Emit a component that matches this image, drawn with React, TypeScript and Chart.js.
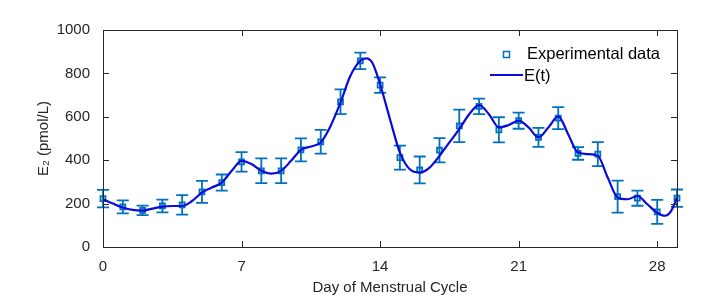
import React, { useEffect, useRef } from "react";
import { Chart, registerables } from "chart.js";

Chart.register(...registerables);

// ---- Data ----
const days = [0, 1, 2, 3, 4, 5, 6, 7, 8, 9, 10, 11, 12, 13, 14, 15, 16, 17, 18, 19, 20, 21, 22, 23, 24, 25, 26, 27, 28, 29];
const e2Mean = [223, 185, 169, 189, 194, 254, 297, 392, 351, 351, 448, 485, 669, 858, 746, 412, 355, 446, 558, 648, 540, 582, 505, 594, 431, 428, 232, 225, 162, 225];
const e2Err = [40, 30, 22, 29, 45, 51, 37, 45, 57, 57, 53, 55, 57, 38, 36, 55, 62, 56, 75, 36, 58, 37, 44, 51, 29, 55, 74, 35, 55, 40];

const fitT = [0, 0.5, 1, 1.5, 2, 2.5, 3, 3.5, 4, 4.5, 5, 5.5, 6, 6.5, 7, 7.5, 8, 8.5, 9, 9.5, 10, 10.5, 11, 11.5, 12, 12.5, 13, 13.3, 13.6, 14, 14.5, 15, 15.5, 16, 16.5, 17, 17.5, 18, 18.5, 19, 19.5, 20, 20.5, 21, 21.5, 22, 22.5, 23, 23.5, 24, 24.5, 25, 25.5, 26, 26.5, 27, 27.5, 28, 28.4, 28.7, 29];
const fitE = [220, 200, 182, 171, 168, 177, 186, 189, 189, 212, 251, 274, 297, 351, 397, 382, 351, 338, 351, 397, 448, 463, 482, 558, 666, 789, 858, 869, 850, 750, 589, 435, 358, 343, 366, 420, 482, 543, 612, 654, 612, 551, 562, 582, 551, 505, 551, 602, 520, 435, 428, 420, 320, 228, 220, 235, 197, 158, 144, 165, 228];

const xTicks = [0, 7, 14, 21, 28];
const yTicks = [0, 200, 400, 600, 800, 1000];

const xTitle = "Day of Menstrual Cycle";
const yTitle = "E\u2082 (pmol/L)";
const legendLabels = ["Experimental data", "E(t)"];

const DATA_COLOR = "#0072BD";
const LINE_COLOR = "#0A0ADC";
const AXIS_COLOR = "#262626";
const FONT = "'Liberation Sans', Arial, Helvetica, sans-serif";

export default function App() {
  const ref = useRef<HTMLCanvasElement | null>(null);

  useEffect(() => {
    document.body.style.margin = "0";
    const canvas = ref.current;
    if (!canvas) return;

    const framePlugin = {
      id: "frameAndExtras",
      beforeDatasetsDraw(chart: any) {
        const ctx = chart.ctx;
        const xs = chart.scales.x;
        const ys = chart.scales.y;
        ctx.save();
        ctx.strokeStyle = DATA_COLOR;
        ctx.lineWidth = 1.8;
        for (let i = 0; i < days.length; i++) {
          const px = xs.getPixelForValue(days[i]);
          const top = ys.getPixelForValue(e2Mean[i] + e2Err[i]);
          const bot = ys.getPixelForValue(e2Mean[i] - e2Err[i]);
          ctx.beginPath();
          ctx.moveTo(px, top);
          ctx.lineTo(px, bot);
          ctx.moveTo(px - 6, top);
          ctx.lineTo(px + 6, top);
          ctx.moveTo(px - 6, bot);
          ctx.lineTo(px + 6, bot);
          ctx.stroke();
        }
        ctx.restore();
      },
      afterDraw(chart: any) {
        const ctx = chart.ctx;
        const a = chart.chartArea;
        const xs = chart.scales.x;
        const ys = chart.scales.y;
        ctx.save();
        ctx.strokeStyle = AXIS_COLOR;
        ctx.lineWidth = 1;
        ctx.strokeRect(Math.round(a.left) + 0.5, Math.round(a.top) + 0.5, Math.round(a.right - a.left), Math.round(a.bottom - a.top));
        ctx.beginPath();
        const tl = 6;
        for (const v of xTicks) {
          const px = Math.round(xs.getPixelForValue(v)) + 0.5;
          ctx.moveTo(px, a.bottom);
          ctx.lineTo(px, a.bottom - tl);
          ctx.moveTo(px, a.top);
          ctx.lineTo(px, a.top + tl);
        }
        for (const v of yTicks) {
          const py = Math.round(ys.getPixelForValue(v)) + 0.5;
          ctx.moveTo(a.left, py);
          ctx.lineTo(a.left + tl, py);
          ctx.moveTo(a.right, py);
          ctx.lineTo(a.right - tl, py);
        }
        ctx.stroke();

        // legend
        ctx.font = `16.5px ${FONT}`;
        ctx.fillStyle = "#000000";
        ctx.textBaseline = "middle";
        ctx.textAlign = "left";
        ctx.strokeStyle = DATA_COLOR;
        ctx.lineWidth = 1.5;
        ctx.strokeRect(503.5, 51.5, 6, 6);
        ctx.fillText(legendLabels[0], 527, 54);
        ctx.strokeStyle = LINE_COLOR;
        ctx.lineWidth = 2;
        ctx.beginPath();
        ctx.moveTo(490, 75);
        ctx.lineTo(523, 75);
        ctx.stroke();
        ctx.fillText(legendLabels[1], 524, 76);
        ctx.restore();
      },
    };

    const chart = new Chart(canvas, {
      type: "scatter",
      data: {
        datasets: [
          {
            type: "line",
            label: legendLabels[1],
            data: fitT.map((t, i) => ({ x: t, y: fitE[i] })),
            borderColor: LINE_COLOR,
            borderWidth: 2.2,
            pointRadius: 0,
            fill: false,
            clip: false,
            cubicInterpolationMode: "monotone",
            order: 0,
          } as any,
          {
            type: "scatter",
            label: legendLabels[0],
            data: days.map((d, i) => ({ x: d, y: e2Mean[i] })),
            pointStyle: "rect",
            pointRadius: 3.5,
            pointBorderWidth: 1.8,
            pointBorderColor: DATA_COLOR,
            pointBackgroundColor: "rgba(255,255,255,0)",
            clip: false,
            order: 1,
          } as any,
        ],
      },
      options: {
        responsive: false,
        animation: false,
        layout: { padding: { left: 0, right: 47, top: 30, bottom: 0 } },
        plugins: { legend: { display: false }, tooltip: { enabled: false } },
        scales: {
          x: {
            type: "linear",
            min: 0,
            max: 29,
            grid: { display: false },
            border: { display: false },
            afterBuildTicks: (s: any) => {
              s.ticks = xTicks.map((v) => ({ value: v }));
            },
            afterFit: (s: any) => {
              s.height = 59;
            },
            ticks: {
              color: AXIS_COLOR,
              font: { family: FONT, size: 15 },
              padding: 3,
              maxRotation: 0,
              autoSkip: false,
              callback: (v: any) => String(v),
            },
            title: {
              display: true,
              text: xTitle,
              color: AXIS_COLOR,
              font: { family: FONT, size: 15 },
              padding: { top: 0, bottom: 9 },
            },
          },
          y: {
            type: "linear",
            min: 0,
            max: 1000,
            grid: { display: false },
            border: { display: false },
            afterBuildTicks: (s: any) => {
              s.ticks = yTicks.map((v) => ({ value: v }));
            },
            afterFit: (s: any) => {
              s.width = 103;
            },
            ticks: {
              color: AXIS_COLOR,
              font: { family: FONT, size: 15 },
              padding: 5,
              callback: (v: any) => String(v),
            },
            title: {
              display: true,
              text: yTitle,
              color: AXIS_COLOR,
              font: { family: FONT, size: 15 },
              padding: { top: 35, bottom: 0 },
            },
          },
        },
      },
      plugins: [framePlugin],
    } as any);

    return () => chart.destroy();
  }, []);

  return (
    <div style={{ position: "absolute", left: 0, top: 0, width: 724, height: 306, background: "#fff" }}>
      <canvas ref={ref} width={724} height={306} />
    </div>
  );
}
